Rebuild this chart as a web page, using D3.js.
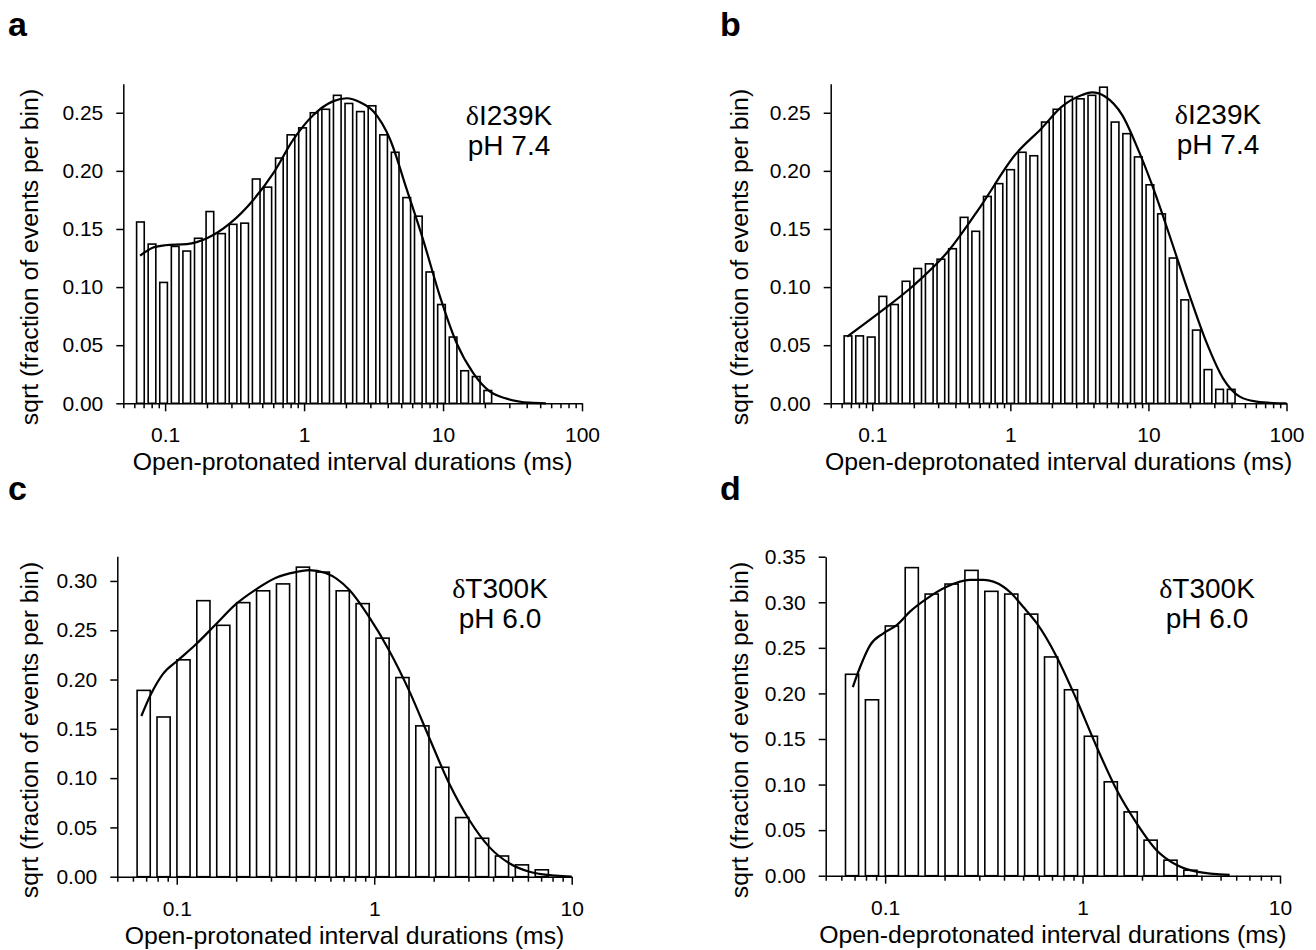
<!DOCTYPE html>
<html>
<head>
<meta charset="utf-8">
<script src="https://cdn.jsdelivr.net/npm/d3@7"></script>
<style>
  body { margin: 0; background: #fff; }
  text { font-family: "Liberation Sans", Arial, sans-serif; fill: #000; }
</style>
</head>
<body>
<div id="chart"></div>
<script>
// ---- values ----
const panelLetters = ["a", "b", "c", "d"];
const xTitles = [
    "Open-protonated interval durations (ms)",
    "Open-deprotonated interval durations (ms)",
    "Open-protonated interval durations (ms)",
    "Open-deprotonated interval durations (ms)"
];
const yTitle = "sqrt (fraction of events per bin)";
const mutants = ["I239K", "I239K", "T300K", "T300K"];
const phLabels = ["pH 7.4", "pH 7.4", "pH 6.0", "pH 6.0"];

const xTickLabelsAB = ["0.1", "1", "10", "100"];
const xTickLabelsCD = ["0.1", "1", "10"];
const yTicksAB = [0, 0.05, 0.10, 0.15, 0.20, 0.25];
const yTicksC = [0, 0.05, 0.10, 0.15, 0.20, 0.25, 0.30];
const yTicksD = [0, 0.05, 0.10, 0.15, 0.20, 0.25, 0.30, 0.35];

// centre of first bin (ms) and bins per decade of each histogram
const binStart = [0.0664, 0.0667, 0.068, 0.068];
const binsPerDecade = [12, 11.89, 9.92, 9.92];

const barsA = [0.156, 0.137, 0.104, 0.135, 0.131, 0.142, 0.165, 0.146, 0.154, 0.155,
    0.193, 0.186, 0.211, 0.231, 0.237, 0.250, 0.253, 0.265, 0.258, 0.251,
    0.256, 0.231, 0.216, 0.177, 0.161, 0.113, 0.085, 0.057, 0.028, 0.023, 0.011];
const barsB = [0.058, 0.058, 0.057, 0.092, 0.085, 0.105, 0.116, 0.120, 0.124, 0.133,
    0.160, 0.148, 0.178, 0.189, 0.201, 0.216, 0.213, 0.242, 0.253, 0.264,
    0.262, 0.265, 0.272, 0.242, 0.232, 0.212, 0.188, 0.163, 0.125, 0.089,
    0.063, 0.029, 0.012, 0.012];
const barsC = [0.189, 0.162, 0.220, 0.280, 0.255, 0.278, 0.290, 0.297, 0.314, 0.309,
    0.290, 0.277, 0.242, 0.202, 0.153, 0.111, 0.060, 0.039, 0.021, 0.012, 0.007];
const barsD = [0.221, 0.193, 0.274, 0.338, 0.309, 0.320, 0.335, 0.312, 0.309, 0.287,
    0.240, 0.204, 0.153, 0.103, 0.070, 0.039, 0.017, 0.006];

// fitted curves, [duration ms, value]
const fitA = [[0.066, 0.127], [0.082, 0.134], [0.1, 0.136], [0.143, 0.137], [0.2, 0.142],
    [0.294, 0.155], [0.431, 0.175], [0.601, 0.198], [0.838, 0.227], [1.167, 0.248],
    [1.626, 0.260], [2.03, 0.2625], [2.53, 0.259], [3.16, 0.251], [4.16, 0.227],
    [5.48, 0.184], [7.22, 0.140], [9.5, 0.092], [12.5, 0.052], [16.5, 0.026],
    [21.8, 0.010], [28.7, 0.004], [42, 0.0005], [55, 0]];
const fitB = [[0.0658, 0.0573], [0.115, 0.0788], [0.201, 0.1018], [0.352, 0.1304],
    [0.618, 0.1706], [1.08, 0.2136], [1.68, 0.2365], [2.36, 0.2552], [3.3, 0.2652],
    [3.9, 0.2675], [4.88, 0.2638], [6.46, 0.248], [8.55, 0.2165], [11.3, 0.1792],
    [15, 0.1362], [19.8, 0.0932], [26.2, 0.053], [34.7, 0.0215], [45.9, 0.0057],
    [60.8, 0.0014], [80, 0.0002], [100, 0]];
const fitC = [[0.0662, 0.163], [0.0744, 0.186], [0.0854, 0.206], [0.102, 0.220],
    [0.124, 0.235], [0.156, 0.255], [0.198, 0.276], [0.25, 0.291], [0.316, 0.303],
    [0.4, 0.309], [0.467, 0.311], [0.567, 0.308], [0.747, 0.291], [0.938, 0.264],
    [1.186, 0.230], [1.5, 0.189], [1.89, 0.142], [2.39, 0.095], [3.03, 0.0575],
    [3.83, 0.030], [4.83, 0.0136], [6.1, 0.005], [8.3, 0.001], [10, 0]];
const fitD = [[0.0686, 0.207], [0.0747, 0.229], [0.084, 0.253], [0.098, 0.266],
    [0.1145, 0.275], [0.134, 0.290], [0.1626, 0.304], [0.205, 0.317], [0.269, 0.3245],
    [0.315, 0.3245], [0.397, 0.317], [0.43, 0.311], [0.5, 0.295], [0.586, 0.277],
    [0.74, 0.240], [0.933, 0.193], [1.178, 0.1415], [1.49, 0.094], [1.88, 0.0575],
    [2.37, 0.028], [3.0, 0.0117], [3.78, 0.0044], [5.56, 0.0008]];

// ---- layout ----
const width = 1316;
const height = 950;

const panels = [
    { bars: barsA, fit: fitA, xLabels: xTickLabelsAB, yTicks: yTicksAB, xMax: 100, yMax: 0.275,
      left: 123.3, right: 582, bottom: 403.3, top: 83.7,
      letter: [8, 36], yTitle: [38, 257], ann: [509, 125, 30] },
    { bars: barsB, fit: fitB, xLabels: xTickLabelsAB, yTicks: yTicksAB, xMax: 100, yMax: 0.275,
      left: 830.7, right: 1286.5, bottom: 403.3, top: 83.7,
      letter: [720, 36], yTitle: [748, 257], ann: [1218, 124, 29.5] },
    { bars: barsC, fit: fitC, xLabels: xTickLabelsCD, yTicks: yTicksC, xMax: 10, yMax: 0.325,
      left: 117.3, right: 571.7, bottom: 876.7, top: 556.3,
      letter: [8, 500], yTitle: [38, 730], ann: [500, 598, 29.5] },
    { bars: barsD, fit: fitD, xLabels: xTickLabelsCD, yTicks: yTicksD, xMax: 10, yMax: 0.35,
      left: 825.7, right: 1280, bottom: 875.7, top: 556.7,
      letter: [720, 500], yTitle: [748, 730], ann: [1207, 598, 29.5] }
];

var svg = d3.select("#chart")
    .append("svg")
    .attr("width", width)
    .attr("height", height)
    .style("background", "#fff");

// all log ticks 1..9 x 10^e inside the domain
function logTicks(lo, hi) {
    var t = [];
    for (var e = -2; e <= 2; e++) {
        for (var m = 1; m < 10; m++) {
            var v = +(m * Math.pow(10, e)).toPrecision(3);
            if (v >= lo && v <= hi) t.push(v);
        }
    }
    return t;
}

panels.forEach(function (p, i) {
    var x = d3.scaleLog().domain([0.05, p.xMax]).range([p.left, p.right]);
    var y = d3.scaleLinear().domain([0, p.yMax]).range([p.bottom, p.top]);
    var g = svg.append("g");

    // histogram bars (log-spaced bins)
    var c0 = Math.log10(binStart[i]);
    var step = 1 / binsPerDecade[i];
    var half = 0.33 * step;
    g.selectAll(".bar")
        .data(p.bars)
        .enter().append("rect")
        .attr("class", "bar")
        .attr("x", function (d, k) { return x(Math.pow(10, c0 + k * step - half)); })
        .attr("width", function (d, k) {
            return x(Math.pow(10, c0 + k * step + half)) - x(Math.pow(10, c0 + k * step - half));
        })
        .attr("y", function (d) { return y(d); })
        .attr("height", function (d) { return y(0) - y(d); })
        .attr("fill", "#fff")
        .attr("stroke", "#000")
        .attr("stroke-width", 1.6);

    // fitted curve
    var line = d3.line()
        .x(function (d) { return x(d[0]); })
        .y(function (d) { return y(d[1]); })
        .curve(d3.curveMonotoneX);
    g.append("path")
        .datum(p.fit)
        .attr("d", line)
        .attr("fill", "none")
        .attr("stroke", "#000")
        .attr("stroke-width", 2.2);

    // x axis
    var majors = p.xLabels;
    var xAxis = d3.axisBottom(x)
        .tickValues(logTicks(0.05, p.xMax))
        .tickSize(8)
        .tickSizeOuter(0)
        .tickPadding(16)
        .tickFormat(function (d) { return majors.indexOf(String(d)) >= 0 ? String(d) : ""; });
    var gx = g.append("g")
        .attr("transform", "translate(0," + p.bottom + ")")
        .call(xAxis);
    gx.selectAll(".tick")
        .filter(function (d) { return majors.indexOf(String(d)) < 0; })
        .select("line").attr("y2", 5);

    // y axis
    var yAxis = d3.axisLeft(y)
        .tickValues(p.yTicks)
        .tickSize(7)
        .tickSizeOuter(0)
        .tickPadding(13)
        .tickFormat(d3.format(".2f"));
    var gy = g.append("g")
        .attr("transform", "translate(" + p.left + ",0)")
        .call(yAxis);

    [gx, gy].forEach(function (a) {
        a.attr("font-family", null).attr("font-size", null);
        a.selectAll("path, line").attr("stroke", "#000").attr("stroke-width", 1.5);
        a.selectAll("text").style("font-size", "21px").attr("fill", "#000");
    });

    // axis titles
    g.append("text")
        .attr("x", (p.left + p.right) / 2)
        .attr("y", p.bottom + 67)
        .attr("text-anchor", "middle")
        .style("font-size", "24.8px")
        .text(xTitles[i]);
    g.append("text")
        .attr("transform", "translate(" + p.yTitle[0] + "," + p.yTitle[1] + ") rotate(-90)")
        .attr("text-anchor", "middle")
        .style("font-size", "24.8px")
        .text(yTitle);

    // mutant / pH annotation, two lines in one label
    var t = g.append("text")
        .attr("x", p.ann[0])
        .attr("y", p.ann[1])
        .attr("text-anchor", "middle")
        .style("font-size", "28px");
    t.append("tspan").style("font-family", "'Liberation Serif', serif").text("\u03b4");
    t.append("tspan").text(mutants[i]);
    t.append("tspan")
        .attr("x", p.ann[0])
        .attr("dy", p.ann[2])
        .text(phLabels[i]);

    // panel letter
    g.append("text")
        .attr("x", p.letter[0])
        .attr("y", p.letter[1])
        .style("font-family", "'Liberation Sans Narrow', 'Liberation Sans', Arial, sans-serif")
        .style("font-weight", "bold")
        .style("font-size", "34px")
        .text(panelLetters[i]);
});
</script>
</body>
</html>
